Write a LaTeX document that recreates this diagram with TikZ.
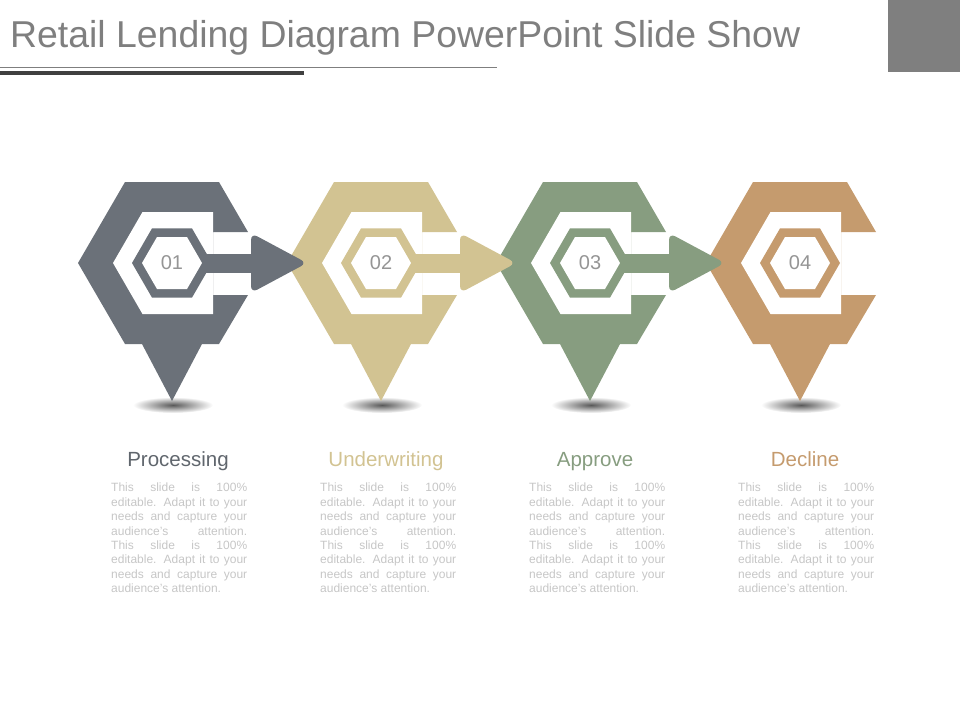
\documentclass[tikz,border=0pt]{standalone}
\usepackage{fontspec}
\setmainfont{Liberation Sans}
\usetikzlibrary{calc}

\definecolor{slate}{HTML}{6B7179}
\definecolor{sand}{HTML}{D2C392}
\definecolor{sage}{HTML}{879D80}
\definecolor{copper}{HTML}{C59B6E}
\definecolor{bodygrey}{HTML}{C6C6C6}
\definecolor{titlegrey}{HTML}{7F7F7F}
\definecolor{numgrey}{HTML}{959595}

% C-shaped hexagon pin with its shadow, white band and ring
\def\hexpin[#1](#2){
  \shade[inner color=black!65, outer color=white, shift={(#2)}] (1,142) ellipse (40pt and 8pt);
  \fill[#1, shift={(#2)}] (-94,0) -- (-47,-81) -- (47,-81) -- (76,-31) -- (41,-31) -- (41,32) -- (76,32) -- (47,81) -- (30,81) -- (0,138) -- (-30,81) -- (-47,81) -- cycle;
  \fill[white, shift={(#2)}] (-59,0) -- (-29.5,-51) -- (41,-51) -- (41,51) -- (-29.5,51) -- cycle;
  \fill[#1, shift={(#2)}] (-40,0) -- (-20,-34.6) -- (20,-34.6) -- (40,0) -- (20,34.6) -- (-20,34.6) -- cycle;
  \fill[white, shift={(#2)}] (-30,0) -- (-15,-26) -- (15,-26) -- (30,0) -- (15,26) -- (-15,26) -- cycle;
}
% arrow leaving the ring
\def\hexarrow[#1](#2){
  \fill[#1, shift={(#2)}] (30,-9.5) rectangle (84,9.5);
  \fill[#1, rounded corners=7pt, shift={(#2)}] (79,-30) -- (135,0) -- (79,30) -- cycle;
}

\begin{document}
\begin{tikzpicture}[x=1pt, y=-1pt,
    num/.style={text=numgrey, font=\fontsize{20}{22}\selectfont},
    head/.style={anchor=base, font=\fontsize{20.5}{24}\selectfont},
    body/.style={anchor=north west, inner sep=0pt, text width=136pt, align=justify,
      text=bodygrey, font=\fontsize{12}{14.4}\selectfont}]
  \useasboundingbox (0,0) rectangle (960,720);
  %%%%% TITLE %%%%%
  \node[anchor=base west, inner sep=0pt, text=titlegrey, font=\fontsize{37.4}{42}\selectfont] (title) at (10,47) {Retail Lending Diagram PowerPoint Slide Show};
  \fill[titlegrey] (0,66.5) rectangle (497,68.2);
  \fill[black!75] (0,70.5) rectangle (304,74.5);
  \fill[titlegrey] (888,0) rectangle (960,72);

  %%%%% PINS %%%%%
  \hexpin[slate](172,263)
  \hexpin[sand](381,263)
  \hexpin[sage](590,263)
  \hexpin[copper](800,263)

  \hexarrow[slate](172,263)
  \hexarrow[sand](381,263)
  \hexarrow[sage](590,263)

  \node[num] (n1) at (172,263) {01};
  \node[num] (n2) at (381,263) {02};
  \node[num] (n3) at (590,263) {03};
  \node[num] (n4) at (800,263) {04};

  %%%%% TEXTS %%%%%
  \node[head, text=slate!90!black] (h1) at (178,466) {Processing};
  \node[head, text=sand] (h2) at (386,466) {Underwriting};
  \node[head, text=sage] (h3) at (595,466) {Approve};
  \node[head, text=copper] (h4) at (805,466) {Decline};

  \node[body] (t1) at (111,483) {This slide is 100\%\linebreak editable. Adapt it to your\linebreak needs and capture your\linebreak audience’s attention.\linebreak This slide is 100\%\linebreak editable. Adapt it to your\linebreak needs and capture your\linebreak audience’s attention.};
  \node[body] (t2) at (320,483) {This slide is 100\%\linebreak editable. Adapt it to your\linebreak needs and capture your\linebreak audience’s attention.\linebreak This slide is 100\%\linebreak editable. Adapt it to your\linebreak needs and capture your\linebreak audience’s attention.};
  \node[body] (t3) at (529,483) {This slide is 100\%\linebreak editable. Adapt it to your\linebreak needs and capture your\linebreak audience’s attention.\linebreak This slide is 100\%\linebreak editable. Adapt it to your\linebreak needs and capture your\linebreak audience’s attention.};
  \node[body] (t4) at (738,483) {This slide is 100\%\linebreak editable. Adapt it to your\linebreak needs and capture your\linebreak audience’s attention.\linebreak This slide is 100\%\linebreak editable. Adapt it to your\linebreak needs and capture your\linebreak audience’s attention.};
\end{tikzpicture}
\end{document}
